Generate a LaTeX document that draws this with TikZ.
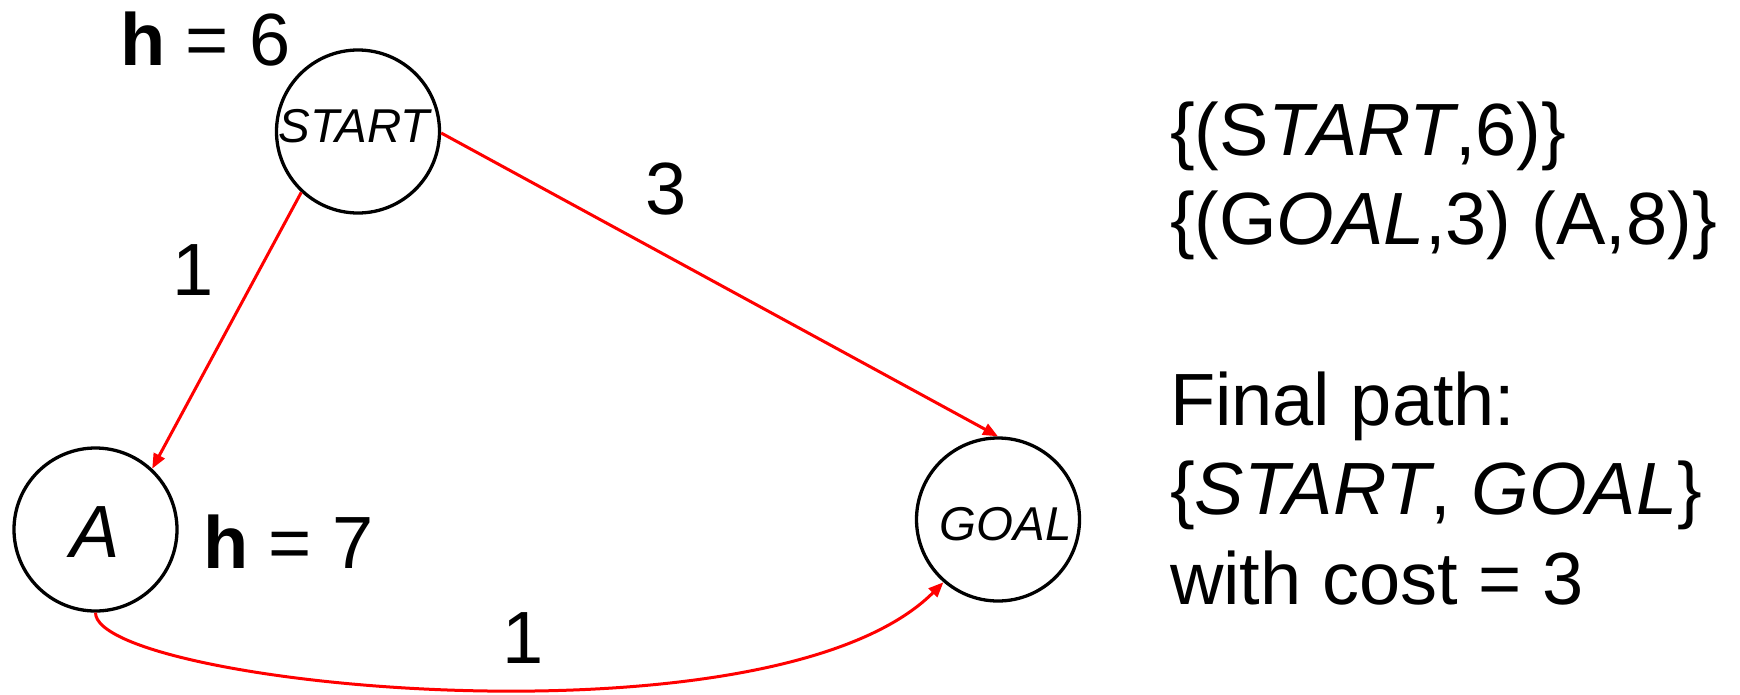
\documentclass[tikz,border=0pt]{standalone}
\usepackage{fontspec}
\setmainfont{Liberation Sans}
\usetikzlibrary{arrows.meta}
\definecolor{edgered}{RGB}{255,0,0}
\newcommand\fsBig{\fontsize{74}{89.5}\selectfont}
\newcommand\fsSmall{\fontsize{47.5}{57}\selectfont}
\begin{document}
\begin{tikzpicture}[x=1pt,y=-1pt,
  state/.style={circle,draw=black,line width=3.3pt,minimum size=163pt,inner sep=0pt},
  edge/.style={draw=edgered,line width=3pt,-{Triangle[length=15pt,width=12pt]}},
  txt/.style={inner sep=0pt,outer sep=0pt,font=\fsBig},
]
\useasboundingbox (0,0) rectangle (1740,694);

% states
\node[state,font=\fsSmall\itshape,text height=34pt,text depth=13pt] (S) at (358,131.5)
  {\makebox[0pt]{\hspace*{-8pt}START}};
\node[state,font=\fsBig\itshape,text height=55pt,text depth=0pt] (A) at (95.5,529.5) {A};
\node[state,font=\fsSmall\itshape,text height=41pt,text depth=0pt] (G) at (998,519.5)
  {\makebox[0pt]{\hspace*{15pt}GOAL}};

% heuristic labels
\node[txt,anchor=base west] (hS) at (120,65) {\textbf{h} = 6};
\node[txt,anchor=base west] (hA) at (203,568) {\textbf{h} = 7};

% edges
\draw[edge] (S.-133) -- (A.47);
\draw[edge] (S.-1) -- (G.north);
\draw[edge] (A.south) .. controls +(0,72) and +(-172,172) .. (G.-131);

% edge labels
\node[txt,anchor=base] (w3) at (666.5,214) {3};
\node[txt,anchor=base] (w1a) at (193,295) {1};
\node[txt,anchor=base] (w1b) at (523,663) {1};

% right-hand text
\node[txt,anchor=base west] (open) at (1170,155)
  {\begin{tabular}[t]{@{}l@{}}\{(S\textit{TART},6)\}\\ \{(G\textit{OAL},3) (A,8)\}\end{tabular}};
\node[txt,anchor=base west] (final) at (1170,425)
  {\begin{tabular}[t]{@{}l@{}}Final path:\\ \{\textit{START}, \textit{GOAL}\}\\ with cost = 3\end{tabular}};
\end{tikzpicture}
\end{document}
